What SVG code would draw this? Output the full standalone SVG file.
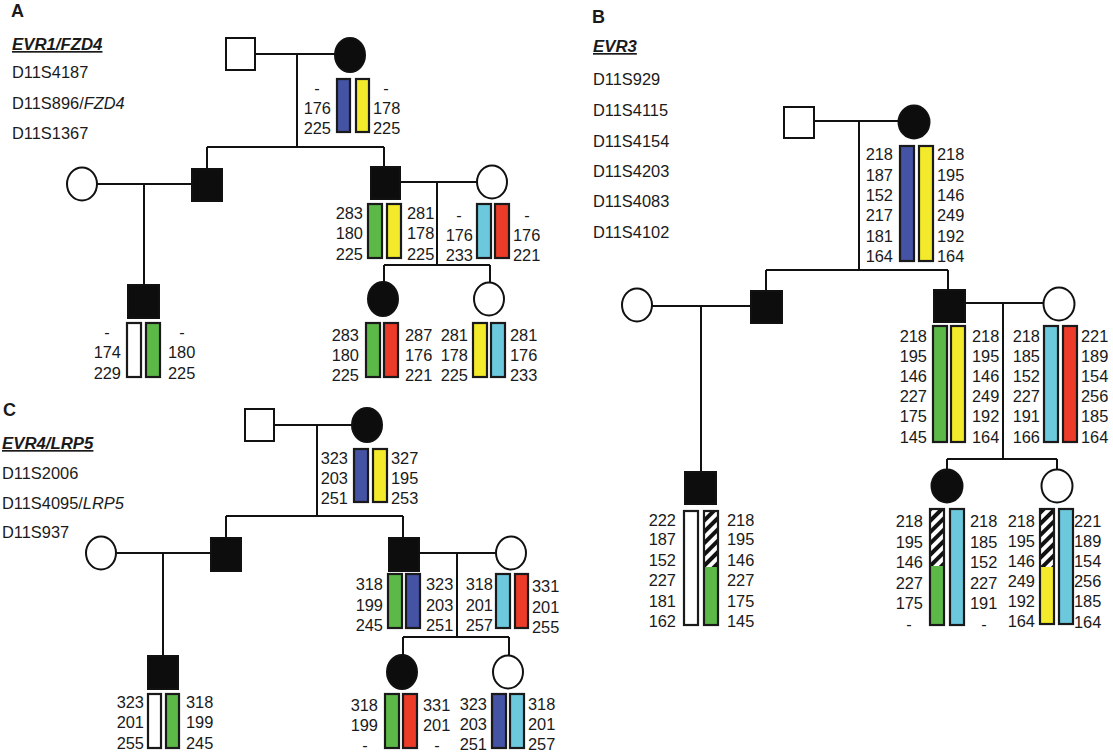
<svg xmlns="http://www.w3.org/2000/svg" width="1113" height="754" viewBox="0 0 1113 754">
<style>
.l{stroke:#111;stroke-width:2;fill:none}
.s{stroke:#111;stroke-width:2}
.a{fill:#0d0d0d}
.u{fill:#fff}
.b{stroke:#1a1a1a;stroke-width:2.2}
.o{stroke:#1a1a1a;stroke-width:2.2;fill:none}
.bl{fill:#4453a3}.ye{fill:#f2ea2a}.gr{fill:#5db947}.cy{fill:#6cc8dc}.rd{fill:#ec3b28}.wh{fill:#fff}
.ht{fill:url(#hatch)}
text{font-family:"Liberation Sans",Arial,sans-serif;font-size:16.4px;fill:#1a1a1a}
.e{text-anchor:end}.m{text-anchor:middle}
.h{font-weight:bold;font-size:18px}
.g{font-weight:bold;font-style:italic;text-decoration:underline;font-size:16.8px}
.i{font-style:italic}
</style>
<defs>
<pattern id="hatch" patternUnits="userSpaceOnUse" width="8" height="8" patternTransform="rotate(45)">
<rect width="8" height="8" fill="#fff"/>
<rect width="4" height="8" fill="#111"/>
</pattern>
</defs>
<rect width="1113" height="754" fill="#fff"/>

<!-- Panel headings -->
<g id="panelA-legend">
<text x="11" y="17" class="h">A</text>
<text x="12" y="50" class="g">EVR1/FZD4</text>
<text x="12" y="78">D11S4187</text>
<text x="12" y="109">D11S896/<tspan class="i">FZD4</tspan></text>
<text x="12" y="139">D11S1367</text>
</g>
<g id="panelB-legend">
<text x="592" y="23" class="h">B</text>
<text x="593" y="52" class="g">EVR3</text>
<text x="593" y="85">D11S929</text>
<text x="593" y="116">D11S4115</text>
<text x="593" y="147">D11S4154</text>
<text x="593" y="177">D11S4203</text>
<text x="593" y="207">D11S4083</text>
<text x="593" y="238">D11S4102</text>
</g>
<g id="panelC-legend">
<text x="3" y="416" class="h">C</text>
<text x="2" y="449" class="g">EVR4/LRP5</text>
<text x="2" y="479">D11S2006</text>
<text x="2" y="509">D11S4095/<tspan class="i">LRP5</tspan></text>
<text x="2" y="538">D11S937</text>
</g>

<!-- Connectors -->
<g id="connectors" class="l">
<path d="M255 54H335M297 54V147M207 147H384M207 147V169M384 147V167"/>
<path d="M97 184H192M144 184V285"/>
<path d="M400 182H477M437 182V265M384 265H490M384 265V283M490 265V283"/>
<path d="M814 121H899M859 121V270M766 270H948M766 270V291M948 270V290"/>
<path d="M652 306H751M701 306V472"/>
<path d="M965 303H1044M1003 303V459M947 459H1057M947 459V470M1057 459V470"/>
<path d="M274 425H352M317 425V516M226 516H403M226 516V538M403 516V538"/>
<path d="M116 553H211M163 553V656"/>
<path d="M419 553H496M457 553V637M403 637H509M403 637V655M509 637V655"/>
</g>

<!-- PANEL A -->
<g id="A-I1"><rect x="226" y="38" width="29" height="32" class="s u"/></g>
<g id="A-I2">
<ellipse cx="350" cy="55" rx="15" ry="17" class="s a"/>
<rect x="337" y="79" width="13" height="53" class="b bl"/>
<rect x="356" y="79" width="13" height="53" class="b ye"/>
<text x="317" y="94" class="m">-</text><text x="331" y="114" class="e">176</text><text x="331" y="134" class="e">225</text>
<text x="386" y="94" class="m">-</text><text x="373" y="114">178</text><text x="373" y="134">225</text>
</g>
<g id="A-II1"><ellipse cx="82" cy="184" rx="15" ry="16.5" class="s u"/></g>
<g id="A-II2"><rect x="192" y="169" width="30" height="32" class="s a"/></g>
<g id="A-III1">
<rect x="128" y="285" width="31" height="33" class="s a"/>
<rect x="127" y="323" width="14" height="54" class="b wh"/>
<rect x="146" y="323" width="14" height="54" class="b gr"/>
<text x="107" y="338" class="m">-</text><text x="121" y="358" class="e">174</text><text x="121" y="379" class="e">229</text>
<text x="182" y="338" class="m">-</text><text x="168" y="358">180</text><text x="168" y="379">225</text>
</g>
<g id="A-II3">
<rect x="371" y="167" width="29" height="32" class="s a"/>
<rect x="368" y="204" width="14" height="54" class="b gr"/>
<rect x="387" y="204" width="14" height="54" class="b ye"/>
<text x="363" y="219" class="e">283</text><text x="363" y="239" class="e">180</text><text x="363" y="260" class="e">225</text>
<text x="407" y="219">281</text><text x="407" y="239">178</text><text x="407" y="260">225</text>
</g>
<g id="A-II4">
<ellipse cx="492" cy="182" rx="15" ry="16.5" class="s u"/>
<rect x="477" y="204" width="14" height="54" class="b cy"/>
<rect x="495" y="204" width="14" height="54" class="b rd"/>
<text x="459" y="221" class="m">-</text><text x="473" y="241" class="e">176</text><text x="473" y="261" class="e">233</text>
<text x="527" y="221" class="m">-</text><text x="513" y="241">176</text><text x="513" y="261">221</text>
</g>
<g id="A-III2">
<ellipse cx="383" cy="299" rx="15" ry="17" class="s a"/>
<rect x="366" y="323" width="14" height="54" class="b gr"/>
<rect x="384" y="323" width="14" height="54" class="b rd"/>
<text x="359" y="341" class="e">283</text><text x="359" y="361" class="e">180</text><text x="359" y="381" class="e">225</text>
<text x="405" y="341">287</text><text x="405" y="361">176</text><text x="405" y="381">221</text>
</g>
<g id="A-III3">
<ellipse cx="489" cy="299" rx="15" ry="16.5" class="s u"/>
<rect x="473" y="323" width="14" height="54" class="b ye"/>
<rect x="491" y="323" width="14" height="54" class="b cy"/>
<text x="468" y="341" class="e">281</text><text x="468" y="361" class="e">178</text><text x="468" y="381" class="e">225</text>
<text x="510" y="341">281</text><text x="510" y="361">176</text><text x="510" y="381">233</text>
</g>

<!-- PANEL B -->
<g id="B-I1"><rect x="784" y="107" width="30" height="31" class="s u"/></g>
<g id="B-I2">
<ellipse cx="914" cy="122" rx="15.5" ry="16.5" class="s a"/>
<rect x="900" y="146" width="14" height="115" class="b bl"/>
<rect x="919" y="146" width="14" height="115" class="b ye"/>
<text x="893" y="160" class="e">218</text><text x="893" y="180.5" class="e">187</text><text x="893" y="201" class="e">152</text><text x="893" y="221" class="e">217</text><text x="893" y="241.5" class="e">181</text><text x="893" y="262" class="e">164</text>
<text x="937" y="160">218</text><text x="937" y="180.5">195</text><text x="937" y="201">146</text><text x="937" y="221">249</text><text x="937" y="241.5">192</text><text x="937" y="262">164</text>
</g>
<g id="B-II1"><ellipse cx="637" cy="305" rx="15" ry="16.5" class="s u"/></g>
<g id="B-II2"><rect x="751" y="291" width="31" height="32" class="s a"/></g>
<g id="B-III1">
<rect x="685" y="472" width="31" height="32" class="s a"/>
<rect x="684" y="511" width="14" height="114" class="b wh"/>
<rect x="704" y="511" width="14" height="56" class="ht"/>
<rect x="704" y="567" width="14" height="58" class="gr"/>
<rect x="704" y="511" width="14" height="114" class="o"/>
<text x="676" y="526" class="e">222</text><text x="676" y="545" class="e">187</text><text x="676" y="566" class="e">152</text><text x="676" y="586" class="e">227</text><text x="676" y="607" class="e">181</text><text x="676" y="627" class="e">162</text>
<text x="727" y="526">218</text><text x="727" y="545">195</text><text x="727" y="566">146</text><text x="727" y="586">227</text><text x="727" y="607">175</text><text x="727" y="627">145</text>
</g>
<g id="B-II3">
<rect x="934" y="290" width="31" height="32" class="s a"/>
<rect x="933" y="326" width="14" height="116" class="b gr"/>
<rect x="951" y="326" width="14" height="116" class="b ye"/>
<text x="927" y="342" class="e">218</text><text x="927" y="362" class="e">195</text><text x="927" y="382" class="e">146</text><text x="927" y="402" class="e">227</text><text x="927" y="422" class="e">175</text><text x="927" y="443" class="e">145</text>
<text x="972" y="342">218</text><text x="972" y="362">195</text><text x="972" y="382">146</text><text x="972" y="402">249</text><text x="972" y="422">192</text><text x="972" y="443">164</text>
</g>
<g id="B-II4">
<ellipse cx="1059" cy="304" rx="15.5" ry="16.5" class="s u"/>
<rect x="1044" y="326" width="14" height="116" class="b cy"/>
<rect x="1063" y="326" width="14" height="116" class="b rd"/>
<text x="1040" y="342" class="e">218</text><text x="1040" y="362" class="e">185</text><text x="1040" y="382" class="e">152</text><text x="1040" y="402" class="e">227</text><text x="1040" y="422" class="e">191</text><text x="1040" y="443" class="e">166</text>
<text x="1081" y="342">221</text><text x="1081" y="362">189</text><text x="1081" y="382">154</text><text x="1081" y="402">256</text><text x="1081" y="422">185</text><text x="1081" y="443">164</text>
</g>
<g id="B-III2">
<ellipse cx="947" cy="486" rx="15.5" ry="16.5" class="s a"/>
<rect x="930" y="509" width="14" height="57" class="ht"/>
<rect x="930" y="566" width="14" height="59" class="gr"/>
<rect x="930" y="509" width="14" height="116" class="o"/>
<rect x="950" y="509" width="14" height="116" class="b cy"/>
<text x="923" y="527" class="e">218</text><text x="923" y="548" class="e">195</text><text x="923" y="568" class="e">146</text><text x="923" y="589" class="e">227</text><text x="923" y="609" class="e">175</text><text x="909" y="630" class="m">-</text>
<text x="970" y="527">218</text><text x="970" y="548">185</text><text x="970" y="568">152</text><text x="970" y="589">227</text><text x="970" y="609">191</text><text x="984" y="630" class="m">-</text>
</g>
<g id="B-III3">
<ellipse cx="1057" cy="486" rx="15.5" ry="16.5" class="s u"/>
<rect x="1040" y="509" width="14" height="58" class="ht"/>
<rect x="1040" y="567" width="14" height="57" class="ye"/>
<rect x="1040" y="509" width="14" height="115" class="o"/>
<rect x="1059" y="509" width="14" height="115" class="b cy"/>
<text x="1035" y="527" class="e">218</text><text x="1035" y="547" class="e">195</text><text x="1035" y="567" class="e">146</text><text x="1035" y="587" class="e">249</text><text x="1035" y="607" class="e">192</text><text x="1035" y="627" class="e">164</text>
<text x="1074" y="527">221</text><text x="1074" y="547">189</text><text x="1074" y="567">154</text><text x="1074" y="587">256</text><text x="1074" y="607">185</text><text x="1074" y="628">164</text>
</g>

<!-- PANEL C -->
<g id="C-I1"><rect x="245" y="409" width="29" height="32" class="s u"/></g>
<g id="C-I2">
<ellipse cx="367" cy="425" rx="15" ry="17" class="s a"/>
<rect x="354" y="449" width="14" height="53" class="b bl"/>
<rect x="373" y="449" width="14" height="53" class="b ye"/>
<text x="348" y="464" class="e">323</text><text x="348" y="484" class="e">203</text><text x="348" y="504" class="e">251</text>
<text x="391" y="464">327</text><text x="391" y="484">195</text><text x="391" y="504">253</text>
</g>
<g id="C-II1"><ellipse cx="101" cy="553" rx="15" ry="16.5" class="s u"/></g>
<g id="C-II2"><rect x="211" y="538" width="30" height="33" class="s a"/></g>
<g id="C-III1">
<rect x="148" y="656" width="30" height="33" class="s a"/>
<rect x="148" y="694" width="13" height="54" class="b wh"/>
<rect x="166" y="694" width="13" height="54" class="b gr"/>
<text x="144" y="708" class="e">323</text><text x="144" y="728" class="e">201</text><text x="144" y="749" class="e">255</text>
<text x="186" y="708">318</text><text x="186" y="728">199</text><text x="186" y="749">245</text>
</g>
<g id="C-II3">
<rect x="389" y="538" width="30" height="33" class="s a"/>
<rect x="388" y="574" width="14" height="54" class="b gr"/>
<rect x="406" y="574" width="14" height="54" class="b bl"/>
<text x="383" y="590" class="e">318</text><text x="383" y="611" class="e">199</text><text x="383" y="631" class="e">245</text>
<text x="426" y="590">323</text><text x="426" y="611">203</text><text x="426" y="631">251</text>
</g>
<g id="C-II4">
<ellipse cx="511" cy="553" rx="15" ry="16.5" class="s u"/>
<rect x="496" y="574" width="14" height="54" class="b cy"/>
<rect x="515" y="574" width="13" height="54" class="b rd"/>
<text x="493" y="590" class="e">318</text><text x="493" y="611" class="e">201</text><text x="493" y="631" class="e">257</text>
<text x="532" y="592">331</text><text x="532" y="613">201</text><text x="532" y="633">255</text>
</g>
<g id="C-III2">
<ellipse cx="402" cy="672" rx="15" ry="17" class="s a"/>
<rect x="385" y="694" width="14" height="54" class="b gr"/>
<rect x="403" y="694" width="14" height="54" class="b rd"/>
<text x="378" y="711" class="e">318</text><text x="378" y="731" class="e">199</text><text x="365" y="751" class="m">-</text>
<text x="423" y="711">331</text><text x="423" y="731">201</text><text x="437" y="751" class="m">-</text>
</g>
<g id="C-III3">
<ellipse cx="508" cy="672" rx="15" ry="16.5" class="s u"/>
<rect x="492" y="694" width="14" height="54" class="b bl"/>
<rect x="510" y="694" width="14" height="54" class="b cy"/>
<text x="487" y="710" class="e">323</text><text x="487" y="730" class="e">203</text><text x="487" y="750" class="e">251</text>
<text x="528" y="710">318</text><text x="528" y="730">201</text><text x="528" y="750">257</text>
</g>
</svg>
